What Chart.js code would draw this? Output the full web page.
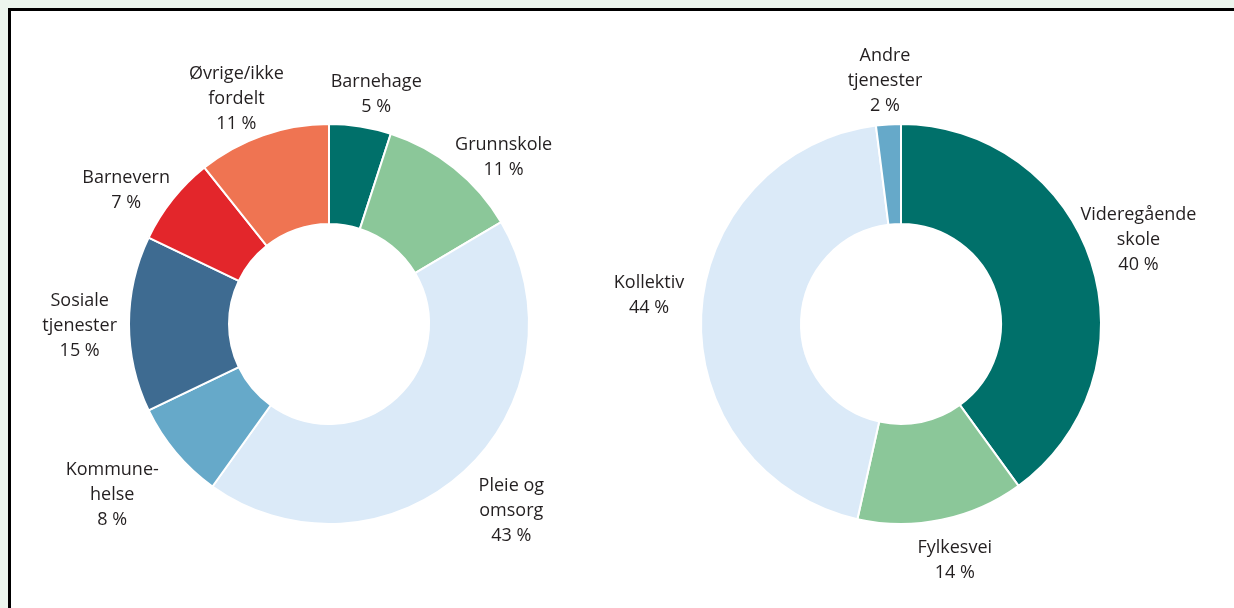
<!DOCTYPE html>
<html>
<head>
<meta charset="utf-8">
<script src="https://cdn.jsdelivr.net/npm/chart.js@4.4.0/dist/chart.umd.min.js"></script>
<style>
  html, body { margin: 0; padding: 0; }
  body { width: 1234px; height: 608px; background: #ecf6ee; position: relative; overflow: hidden; }
  #box { position: absolute; left: 8px; top: 8px; width: 1240px; height: 620px; background: #fff;
         border-left: 3px solid #000; border-top: 3px solid #000; }
  #left { position: absolute; left: 0; top: 0; }
  #right { position: absolute; left: 560px; top: 0; }
</style>
</head>
<body>
<div id="box"></div>
<canvas id="left" width="660" height="608"></canvas>
<canvas id="right" width="674" height="608"></canvas>
<script>
'use strict';
// left: kommunene, right: fylkeskommunene
let leftNames = [['Barnehage'], ['Grunnskole'], ['Pleie og', 'omsorg'], ['Kommune-', 'helse'], ['Sosiale', 'tjenester'], ['Barnevern'], ['Øvrige/ikke', 'fordelt']];
let leftShare = [5, 11.5, 43.4, 8, 14.2, 7.2, 10.7];
let leftPct = ['5 %', '11 %', '43 %', '8 %', '15 %', '7 %', '11 %'];
let leftColors = ['#00706a', '#8bc799', '#dbeaf8', '#66a9c9', '#3e6b91', '#e3262b', '#ef7452'];

let rightNames = [['Videregående', 'skole'], ['Fylkesvei'], ['Kollektiv'], ['Andre', 'tjenester']];
let rightShare = [40, 13.5, 44.5, 2];
let rightPct = ['40 %', '14 %', '44 %', '2 %'];
let rightColors = ['#00706a', '#8bc799', '#dbeaf8', '#66a9c9'];

// small nudges for the outside labels (px)
let leftNudge = [[6, 10], [8, 23], [13, -2], [-14, 7], [6, 2], [2, 18], [-5, 16]];
let rightNudge = [[-25, -5], [2, -2], [1, -17], [0, 12]];

let font = '18px "Open Sans"';
let lineH = 25;

function labelPlugin(pct, nudge) {
  return {
    id: 'outLabels',
    afterDraw(chart) {
      let ctx = chart.ctx;
      let arcs = chart.getDatasetMeta(0).data;
      ctx.save();
      ctx.font = font;
      ctx.fillStyle = '#231f20';
      ctx.textAlign = 'center';
      ctx.textBaseline = 'middle';
      arcs.forEach(function (arc, i) {
        let p = arc.getProps(['x', 'y', 'startAngle', 'endAngle', 'outerRadius'], true);
        let mid = (p.startAngle + p.endAngle) / 2;
        let cx = Math.cos(mid), cy = Math.sin(mid);
        let lines = chart.data.labels[i].concat([pct[i]]);
        let w = 0;
        lines.forEach(function (t) { w = Math.max(w, ctx.measureText(t).width); });
        let h = lines.length * lineH;
        let r = p.outerRadius + 18;
        let x = p.x + r * cx + cx * w / 2 + nudge[i][0];
        let y = p.y + r * cy + cy * h / 2 + nudge[i][1];
        lines.forEach(function (t, k) {
          ctx.fillText(t, x, y - h / 2 + lineH / 2 + k * lineH);
        });
      });
      ctx.restore();
    }
  };
}

function makeDonut(id, names, share, colors, pct, nudge, pad) {
  let ctx = document.getElementById(id).getContext('2d');
  return new Chart(ctx, {
    type: 'doughnut',
    data: {
      labels: names,
      datasets: [{
        data: share,
        backgroundColor: colors,
        borderColor: '#ffffff',
        borderWidth: 2,
        hoverOffset: 0
      }]
    },
    options: {
      responsive: false,
      animation: false,
      cutout: '50%',
      layout: { padding: pad },
      plugins: { legend: { display: false }, tooltip: { enabled: false } }
    },
    plugins: [labelPlugin(pct, nudge)]
  });
}

makeDonut('left', leftNames, leftShare, leftColors, leftPct, leftNudge, { left: 128, right: 130, top: 123, bottom: 83 });
makeDonut('right', rightNames, rightShare, rightColors, rightPct, rightNudge, { left: 140, right: 132, top: 123, bottom: 83 });
</script>
</body>
</html>
